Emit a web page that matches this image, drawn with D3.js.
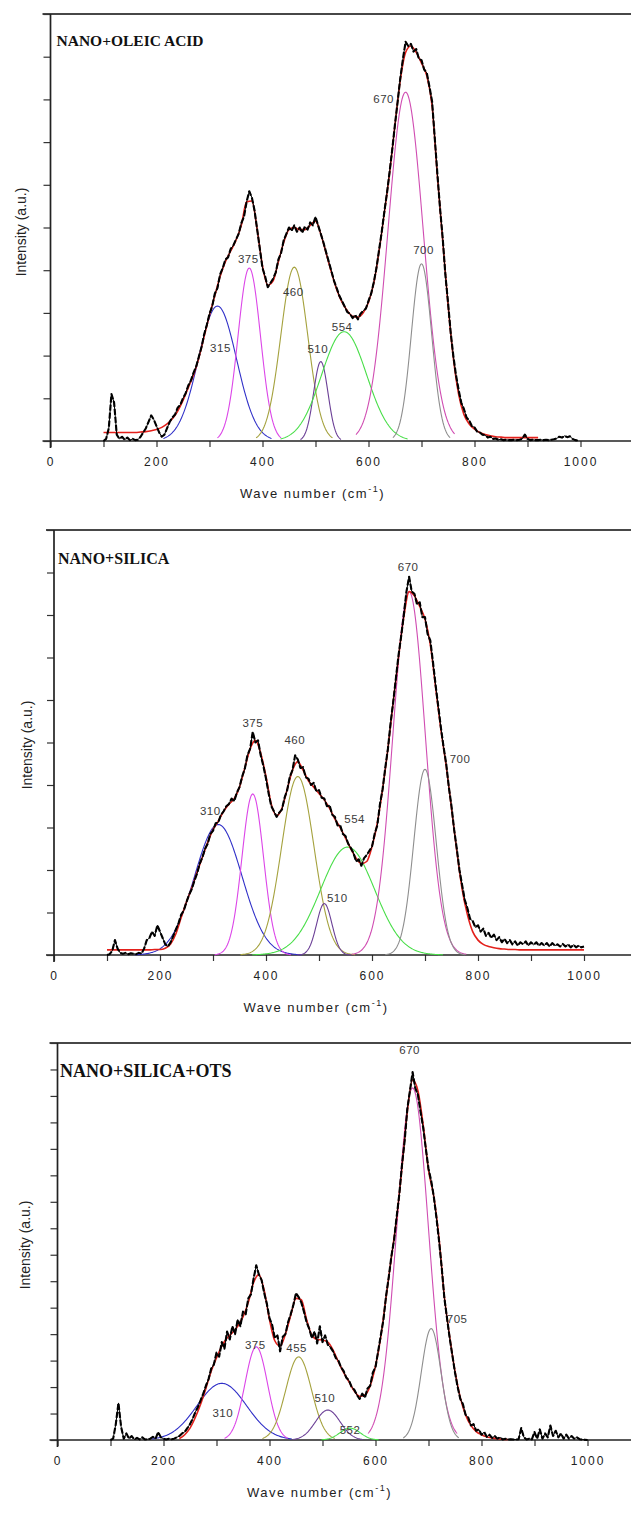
<!DOCTYPE html>
<html>
<head>
<meta charset="utf-8">
<title>Raman band deconvolution</title>
<script src="https://cdn.jsdelivr.net/npm/d3@7/dist/d3.min.js"></script>
<style>
  html, body { margin: 0; padding: 0; background: #fff; }
  svg { display: block; }
</style>
</head>
<body>
<svg id="chart" width="631" height="1531"></svg>
<script>
// ---- measured spectra: intensity (a.u.) every 5 cm^-1 from 100 cm^-1 ----
const RAW_START = 100, RAW_STEP = 5;

const rawOleic = [
  0.00,0.05,0.30,1.10,0.90,0.15,0.05,0.10,0.03,0.08,
  0.02,0.05,0.02,0.03,0.10,0.20,0.30,0.45,0.60,0.50,
  0.35,0.20,0.10,0.15,0.30,0.45,0.55,0.62,0.78,0.85,
  1.00,1.12,1.30,1.42,1.60,1.75,1.98,2.20,2.50,2.72,
  2.98,3.15,3.45,3.58,3.90,4.05,4.25,4.30,4.50,4.58,
  4.72,4.85,5.10,5.25,5.60,5.85,5.70,5.40,4.95,4.50,
  4.05,3.85,3.60,3.70,3.80,3.95,4.25,4.40,4.70,4.85,
  5.00,4.92,5.05,4.90,5.00,4.88,5.02,4.95,5.12,5.05,
  5.25,5.05,4.85,4.65,4.42,4.20,3.98,3.75,3.58,3.40,
  3.28,3.15,3.02,2.98,2.88,2.95,2.85,2.98,3.05,3.10,
  3.28,3.45,3.72,4.05,4.48,4.90,5.38,5.82,6.32,6.85,
  7.42,7.95,8.50,8.95,9.35,9.25,9.30,9.12,9.18,8.95,
  8.92,8.70,8.62,8.30,7.95,7.10,6.25,5.45,4.75,3.90,
  3.25,2.55,2.00,1.55,1.20,0.90,0.75,0.55,0.48,0.35,
  0.32,0.22,0.20,0.15,0.14,0.08,0.10,0.05,0.06,0.03,
  0.04,0.02,0.03,0.02,0.02,0.03,0.02,0.03,0.05,0.15,
  0.05,0.02,0.03,0.02,0.02,0.03,0.02,0.03,0.02,0.03,
  0.04,0.06,0.10,0.08,0.12,0.09,0.11,0.05,0.02,0.01
];

const rawSilica = [
  0.00,0.02,0.10,0.35,0.15,0.05,0.03,0.05,0.02,0.04,
  0.03,0.02,0.05,0.03,0.15,0.35,0.40,0.55,0.45,0.70,
  0.55,0.40,0.25,0.20,0.30,0.45,0.60,0.75,0.95,1.05,
  1.25,1.42,1.55,1.75,1.92,2.15,2.30,2.50,2.62,2.85,
  2.92,3.10,3.12,3.30,3.38,3.50,3.55,3.68,3.62,3.82,
  3.95,4.20,4.38,4.70,4.85,5.25,5.00,5.05,4.70,4.45,
  4.15,3.80,3.50,3.38,3.25,3.35,3.42,3.70,3.88,4.20,
  4.35,4.70,4.60,4.40,4.42,4.18,4.15,4.00,4.05,3.85,
  3.88,3.70,3.68,3.50,3.52,3.30,3.25,3.05,3.05,2.85,
  2.80,2.62,2.52,2.40,2.20,2.25,2.10,2.28,2.35,2.45,
  2.55,2.85,3.05,3.55,3.90,4.40,4.85,5.45,5.95,6.50,
  7.05,7.50,8.00,8.55,8.90,8.55,8.50,8.25,8.30,7.95,
  7.95,7.55,7.40,6.90,6.35,5.85,5.35,4.90,4.50,3.95,
  3.50,2.95,2.50,2.00,1.65,1.30,1.10,0.85,0.80,0.65,
  0.70,0.55,0.62,0.45,0.52,0.40,0.48,0.35,0.42,0.30,
  0.38,0.28,0.35,0.25,0.32,0.22,0.30,0.25,0.32,0.22,
  0.30,0.24,0.30,0.22,0.28,0.22,0.28,0.20,0.28,0.22,
  0.25,0.20,0.26,0.20,0.25,0.18,0.24,0.18,0.22,0.18,
  0.20
];

const rawSilicaOts = [
  0.00,0.05,0.60,1.40,0.50,0.05,0.25,0.05,0.15,0.02,
  0.08,0.02,0.10,0.02,0.03,0.05,0.12,0.05,0.30,0.10,
  0.05,0.02,0.05,0.03,0.05,0.10,0.15,0.25,0.30,0.45,
  0.60,0.80,1.05,1.25,1.50,1.75,2.05,2.30,2.70,2.85,
  3.30,3.15,3.70,3.45,4.10,3.80,4.30,4.00,4.55,4.30,
  4.85,4.75,5.35,5.50,6.10,6.60,6.25,6.05,5.55,5.15,
  4.60,4.35,3.85,3.95,3.35,3.90,4.00,4.45,4.75,5.10,
  5.55,5.40,5.20,4.85,4.45,4.20,3.85,4.10,3.65,4.30,
  3.70,3.95,3.60,3.50,3.35,3.10,3.00,2.75,2.60,2.35,
  2.25,2.00,1.90,1.70,1.55,1.75,1.60,1.95,2.05,2.55,
  2.75,3.35,3.95,4.55,5.45,6.15,6.95,7.55,8.45,9.30,
  10.40,11.30,12.50,13.20,13.90,13.30,13.05,12.40,11.80,11.00,
  10.25,9.80,9.20,8.40,7.50,6.50,5.35,4.60,3.85,3.20,
  2.55,2.00,1.55,1.35,0.95,0.85,0.55,0.60,0.35,0.40,
  0.20,0.30,0.12,0.20,0.08,0.15,0.05,0.10,0.02,0.05,
  0.02,0.03,0.02,0.02,0.03,0.45,0.10,0.02,0.05,0.02,
  0.30,0.05,0.40,0.05,0.25,0.10,0.55,0.15,0.35,0.10,
  0.25,0.05,0.20,0.05,0.15,0.05,0.10,0.03,0.02,0.01,
  0.00
];

// ---- cumulative fit curves: intensity every 10 cm^-1 ----
const FIT_STEP = 10;
const fitOleicStart = 100;
const fitOleic = [
  0.20,0.20,0.20,0.20,0.20,0.20,0.20,0.21,0.22,0.24,
  0.27,0.32,0.40,0.52,0.70,0.95,1.25,1.55,1.95,2.45,
  2.95,3.40,3.85,4.20,4.45,4.70,5.05,5.60,5.62,4.95,
  4.10,3.65,3.75,4.20,4.65,4.95,5.00,4.95,4.95,5.05,
  5.15,4.85,4.40,3.95,3.55,3.25,3.05,2.92,2.90,3.00,
  3.25,3.70,4.45,5.35,6.30,7.40,8.45,9.10,9.25,9.10,
  8.85,8.55,7.85,6.20,4.70,3.20,1.95,1.10,0.62,0.40,
  0.28,0.20,0.15,0.12,0.10,0.09,0.08,0.08,0.08,0.08,
  0.08,0.08,0.08
];

const fitSilicaStart = 100;
const fitSilica = [
  0.12,0.12,0.12,0.12,0.12,0.12,0.12,0.12,0.12,0.13,
  0.13,0.16,0.26,0.50,0.88,1.25,1.58,1.95,2.30,2.65,
  2.95,3.15,3.38,3.55,3.68,3.95,4.40,4.85,5.05,4.75,
  4.20,3.55,3.28,3.45,3.90,4.35,4.55,4.35,4.10,3.95,
  3.80,3.65,3.45,3.20,3.00,2.75,2.50,2.28,2.15,2.20,
  2.55,3.10,3.90,4.85,5.95,7.00,7.95,8.55,8.45,8.20,
  7.90,7.30,6.30,5.30,4.45,3.45,2.45,1.55,0.95,0.55,
  0.35,0.25,0.20,0.17,0.15,0.14,0.13,0.13,0.12,0.12,
  0.12,0.12,0.12,0.12,0.12,0.12,0.12,0.12,0.12,0.12,
  0.12
];

const fitSilicaOtsStart = 230;
const fitSilicaOts = [
  0.05,0.20,0.45,0.85,1.35,1.95,2.60,3.10,3.55,3.85,
  4.05,4.30,4.65,5.20,5.95,6.25,5.65,4.55,3.75,3.55,
  4.00,4.70,5.35,5.30,4.55,3.95,3.80,3.78,3.70,3.40,
  2.95,2.55,2.20,1.85,1.65,1.70,2.05,2.80,3.90,5.40,
  6.90,8.40,10.30,12.40,13.60,13.20,11.90,10.20,9.20,7.60,
  5.40,3.90,2.60,1.60,0.95,0.55,0.32,0.20,0.12,0.08,
  0.05,0.03,0.02
];

// ---- deconvoluted bands: centre (cm^-1), height (a.u.), FWHM (cm^-1) ----
const bandsOleicCentre = [315, 375, 460, 510, 554, 670, 700];
const bandsOleicHeight = [3.16, 4.05, 4.07, 1.86, 2.56, 8.17, 4.15];
const bandsOleicFwhm   = [85, 50, 60, 32, 100, 78, 45];

const bandsSilicaCentre = [310, 375, 460, 510, 554, 670, 700];
const bandsSilicaHeight = [3.07, 3.79, 4.20, 1.21, 2.54, 8.55, 4.37];
const bandsSilicaFwhm   = [105, 48, 72, 34, 120, 72, 50];

const bandsSilicaOtsCentre = [310, 375, 455, 510, 552, 670, 705];
const bandsSilicaOtsHeight = [2.14, 3.52, 3.14, 1.13, 0.45, 13.3, 4.21];
const bandsSilicaOtsFwhm   = [110, 50, 57, 55, 45, 70, 44];

const panelTitles = ['NANO+OLEIC ACID', 'NANO+SILICA', 'NANO+SILICA+OTS'];
const xTickValues = d3.range(0, 1101, 100);
const xTickLabels = [0, 200, 400, 600, 800, 1000];

// ---- styling & layout ----
const W = 631;
const bandColours = ['#3030c8', '#dc46e8', '#a5a23e', '#6b3f96', '#48de48', '#d04db2', '#8e8e8e'];
const fitColour = '#e3201b';

const layouts = [
  { left: 50.5, axisY: 441, top: 14,   yMax: 10, titleX: 56.5, titleY: 46,   titleSize: 15.5, ylabX: 21, ylabY: 232,  span: 1.2,
    labelOffsets: [[3, 42], [-1, -9], [-1, 25], [-3, -13], [-2, -5], [-22, 7], [2, -14]] },
  { left: 54,   axisY: 955, top: 530,  yMax: 10, titleX: 58,   titleY: 564,  titleSize: 16, ylabX: 27, ylabY: 745,  span: 1.5,
    labelOffsets: [[-8, -14], [0, -71], [-3, -37], [13, -6], [7, -28], [-1, -25], [35, -10]] },
  { left: 57.5, axisY: 1440, top: 1043, yMax: 15, titleX: 60,  titleY: 1077, titleSize: 18, ylabX: 25, ylabY: 1245, span: 1.2,
    labelOffsets: [[1, 30], [-1, -2], [-2, -9], [-3, -12], [0, 2], [-3, -38], [26, -10]] }
];

const panels = [
  { raw: rawOleic, fit: fitOleic, fitStart: fitOleicStart,
    centre: bandsOleicCentre, height: bandsOleicHeight, fwhm: bandsOleicFwhm },
  { raw: rawSilica, fit: fitSilica, fitStart: fitSilicaStart,
    centre: bandsSilicaCentre, height: bandsSilicaHeight, fwhm: bandsSilicaFwhm },
  { raw: rawSilicaOts, fit: fitSilicaOts, fitStart: fitSilicaOtsStart,
    centre: bandsSilicaOtsCentre, height: bandsSilicaOtsHeight, fwhm: bandsSilicaOtsFwhm }
];

const svg = d3.select('#chart');
const LN2x4 = 4 * Math.LN2;

// Gaussian band profile sampled across its drawn window
function bandPoints(c, h, w, span) {
  return d3.range(c - span * w, c + span * w + 0.001, 1.5)
    .map(v => [v, h * Math.exp(-LN2x4 * (v - c) * (v - c) / (w * w))]);
}

panels.forEach((p, i) => {
  const L = layouts[i];
  const g = svg.append('g');
  const x = d3.scaleLinear().domain([0, 1000]).range([L.left, L.left + 530]);
  const y = d3.scaleLinear().domain([0, L.yMax]).range([L.axisY, L.top]);
  const line = d3.line().x(d => x(d[0])).y(d => y(d[1]));

  // top frame line
  g.append('line')
    .attr('x1', L.left - 8).attr('x2', W)
    .attr('y1', L.top).attr('y2', L.top)
    .attr('stroke', '#474747').attr('stroke-width', 2);

  // x axis
  const gx = g.append('g')
    .attr('transform', `translate(0,${L.axisY})`)
    .call(d3.axisBottom(x).tickValues(xTickValues).tickSize(6).tickPadding(10)
      .tickFormat(d => xTickLabels.includes(d) ? d : ''));
  gx.select('.domain').remove();
  gx.append('line').attr('x1', L.left - 8).attr('x2', W).attr('y1', 0).attr('y2', 0)
    .attr('stroke', '#222').attr('stroke-width', 1.7);
  gx.selectAll('.tick line').attr('stroke', '#333').attr('stroke-width', 1.2);
  gx.selectAll('.tick text')
    .attr('fill', '#222')
    .style('font-family', '"Liberation Sans", Arial, sans-serif')
    .style('font-size', '12px')
    .style('letter-spacing', '2px');

  // y axis (unlabelled ticks)
  const gy = g.append('g')
    .attr('transform', `translate(${L.left},0)`)
    .call(d3.axisLeft(y).tickValues(d3.range(0, L.yMax + 1, 1)).tickSize(7).tickFormat(''));
  gy.select('.domain').remove();
  gy.append('line').attr('x1', 0).attr('x2', 0).attr('y1', L.top).attr('y2', L.axisY + 7)
    .attr('stroke', '#222').attr('stroke-width', 1.7);
  gy.selectAll('.tick line').attr('stroke', '#333').attr('stroke-width', 1.2);

  // axis titles
  const xt = g.append('text')
    .attr('x', L.left + 262).attr('y', L.axisY + 57)
    .attr('text-anchor', 'middle')
    .attr('fill', '#222')
    .style('font-family', '"Liberation Sans", Arial, sans-serif')
    .style('font-size', '13px')
    .style('letter-spacing', '1.5px');
  xt.append('tspan').text('Wave number (cm');
  xt.append('tspan').attr('dy', -6).style('font-size', '9px').text('-1');
  xt.append('tspan').attr('dy', 6).text(')');

  g.append('text')
    .attr('transform', `translate(${L.ylabX},${L.ylabY}) rotate(-90)`)
    .attr('text-anchor', 'middle')
    .attr('dominant-baseline', 'central')
    .attr('fill', '#222')
    .style('font-family', '"Liberation Sans", Arial, sans-serif')
    .style('font-size', '14px')
    .text('Intensity (a.u.)');

  // panel title
  g.append('text')
    .attr('x', L.titleX).attr('y', L.titleY)
    .attr('fill', '#111')
    .style('font-family', '"Liberation Serif", "Times New Roman", serif')
    .style('font-weight', 'bold')
    .style('font-size', L.titleSize + 'px')
    .text(panelTitles[i]);

  // deconvoluted bands
  p.centre.forEach((c, k) => {
    g.append('path')
      .datum(bandPoints(c, p.height[k], p.fwhm[k], L.span))
      .attr('d', line)
      .attr('fill', 'none')
      .attr('stroke', bandColours[k])
      .attr('stroke-width', 1.1);
  });

  // cumulative fit (drawn beneath the measured trace)
  const fitPts = p.fit.map((v, k) => [p.fitStart + k * FIT_STEP, v]);
  g.append('path').datum(fitPts).attr('d', line.curve(d3.curveMonotoneX))
    .attr('fill', 'none').attr('stroke', fitColour).attr('stroke-width', 1.6);
  line.curve(d3.curveLinear);

  // measured spectrum: thin continuous trace plus heavy broken overlay
  const rawPts = p.raw.map((v, k) => [RAW_START + k * RAW_STEP, v]);
  g.append('path').datum(rawPts).attr('d', line)
    .attr('fill', 'none').attr('stroke', '#000').attr('stroke-width', 1)
    .attr('stroke-linejoin', 'round');
  g.append('path').datum(rawPts).attr('d', line)
    .attr('fill', 'none').attr('stroke', '#000').attr('stroke-width', 2.1)
    .attr('stroke-dasharray', '6 2')
    .attr('stroke-linejoin', 'round');

  // band position labels
  p.centre.forEach((c, k) => {
    const off = L.labelOffsets[k];
    g.append('text')
      .attr('x', x(c) + off[0]).attr('y', y(p.height[k]) + off[1])
      .attr('text-anchor', 'middle')
      .attr('dominant-baseline', 'central')
      .attr('fill', '#3a3a3a')
      .style('font-family', '"Liberation Sans", Arial, sans-serif')
      .style('font-size', '11.5px')
      .style('letter-spacing', '0.5px')
      .text(c);
  });
});
</script>
</body>
</html>
